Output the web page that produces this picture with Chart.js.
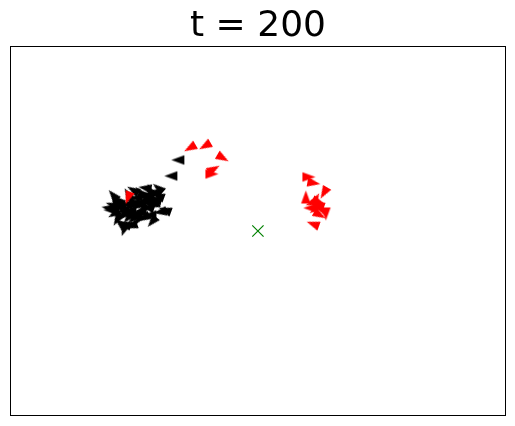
<!DOCTYPE html>
<html>
<head>
<meta charset="utf-8">
<script src="https://cdn.jsdelivr.net/npm/chart.js@4"></script>
<style>
html,body{margin:0;padding:0;background:#fff;}
#wrap{width:515px;height:426px;}
</style>
</head>
<body>
<div id="wrap"><canvas id="c" width="515" height="426"></canvas></div>
<script>
const titleText = "t = 200";
// agent positions (centre of the arena = 0,0) and heading in degrees (clockwise, 0 = right)
const blackX = [-146,-144,-148,-140,-138,-136,-141,-133,-130,-125,-122,-118,-113,-108,-103,-100,-128,-123,-118,-113,-108,-103,-130,-123,-116,-110,-120,-134,-127,-108,-98,-93,-106,-114,-145,-150,-80,-87,
                -140,-135,-132,-127,-120,-115,-111,-105,-125,-138,-131,-143,-118,-110,-100];
const blackY = [26,17,21,31,23,15,11,7,37,41,33,39,43,41,39,43,21,26,28,31,33,31,13,17,21,24,11,1,5,16,19,21,9,13,36,23,71,55,
                27,20,27,31,25,35,28,26,12,8,17,30,18,36,35];
const blackAngle = [200,150,180,220,160,140,120,200,240,210,170,230,190,250,200,220,180,150,200,160,210,190,130,170,140,200,120,110,160,180,170,200,130,150,230,190,180,180,
                210,170,190,230,150,200,180,160,140,220,190,240,170,210,200];
const redX = [-68,-53,-35,-44,-46,-130,51,56,66,54,60,64,58,68,52,62,55,48,57,61];
const redY = [83,85,73,62,57,33,54,48,38,28,26,21,32,17,23,16,7,34,22,29];
const redAngle = [150,150,30,-30,0,110,0,10,120,160,200,60,300,90,180,30,200,270,140,20];
const targetX = [0];
const targetY = [0];
const xRange = [-248, 248];
const yRange = [-185, 185];

function arrow(color){
  const c = document.createElement('canvas');
  c.width = 15; c.height = 15;
  const g = c.getContext('2d');
  g.fillStyle = color;
  g.beginPath();
  g.moveTo(14,7.5); g.lineTo(1,2.7); g.lineTo(1,12.3); g.closePath();
  g.fill();
  return c;
}
const toPts = (xs, ys) => xs.map((x,i)=>({x:x, y:ys[i]}));

const frame = {
  id:'frame',
  afterDraw(chart){
    const a = chart.chartArea, ctx = chart.ctx;
    ctx.save();
    ctx.strokeStyle = '#000'; ctx.lineWidth = 1;
    ctx.strokeRect(Math.round(a.left)+0.5, Math.round(a.top)+0.5, Math.round(a.right-a.left)-1, Math.round(a.bottom-a.top)-1);
    ctx.restore();
  }
};
const bg = {
  id:'bg',
  beforeDraw(chart){
    const ctx = chart.ctx; ctx.save(); ctx.fillStyle='#fff';
    ctx.fillRect(0,0,chart.width,chart.height); ctx.restore();
  }
};

new Chart(document.getElementById('c'), {
  type:'scatter',
  data:{
    datasets:[
      {label:'red', data:toPts(redX, redY), pointStyle:arrow('#ff0000'), rotation:redAngle, pointRadius:6, order:0},
      {label:'black', data:toPts(blackX, blackY), pointStyle:arrow('#000000'), rotation:blackAngle, pointRadius:6, order:1},
      {label:'target', data:toPts(targetX, targetY), pointStyle:'crossRot', pointRadius:8, borderColor:'#008000', backgroundColor:'#008000', borderWidth:1.2, order:0}
    ]
  },
  options:{
    responsive:false, animation:false,
    layout:{padding:{left:10, right:9, bottom:10, top:0}},
    plugins:{
      legend:{display:false}, tooltip:{enabled:false},
      title:{display:true, text:titleText, color:'#000', font:{family:'DejaVu Sans', size:36, weight:'normal', lineHeight:1.0}, padding:{top:9,bottom:1}}
    },
    scales:{
      x:{type:'linear', display:false, min:xRange[0], max:xRange[1]},
      y:{type:'linear', display:false, min:yRange[0], max:yRange[1]}
    }
  },
  plugins:[bg, frame]
});
</script>
</body>
</html>
